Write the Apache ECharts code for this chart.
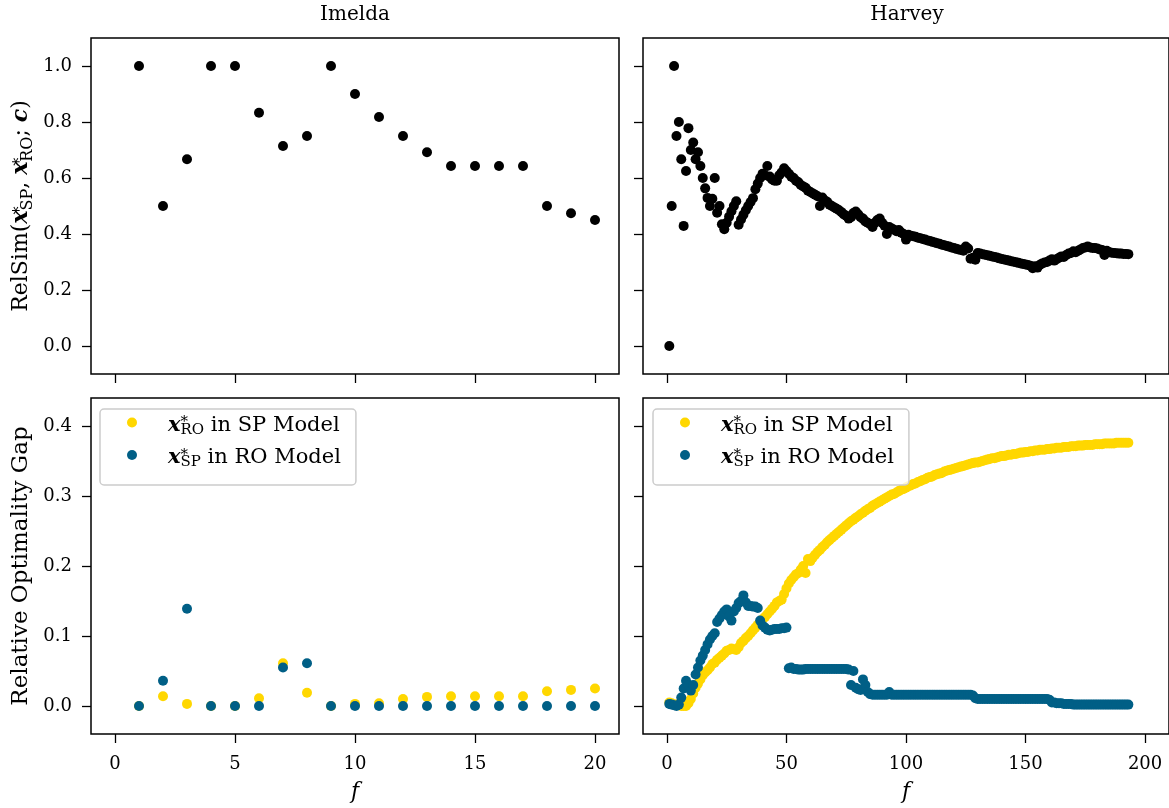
<!DOCTYPE html>
<html>
<head>
<meta charset="utf-8">
<script src="https://cdn.jsdelivr.net/npm/echarts@6/dist/echarts.min.js"></script>
<style>html,body{margin:0;padding:0;background:#fff}#c{width:1169px;height:808px}</style>
</head>
<body>
<div id="c"></div>
<script>
// ---------------- data ----------------
const imeldaF = [1,2,3,4,5,6,7,8,9,10,11,12,13,14,15,16,17,18,19,20];
const imeldaRelSim = [1.0,0.5,0.667,1.0,1.0,0.833,0.714,0.75,1.0,0.9,0.818,0.75,0.692,0.643,0.643,0.643,0.643,0.5,0.474,0.45];
const imeldaGapRO = [0,0.014,0.003,0,0,0.011,0.061,0.019,0,0.003,0.004,0.01,0.013,0.014,0.014,0.014,0.014,0.021,0.023,0.025];
const imeldaGapSP = [0,0.036,0.139,0,0,0,0.055,0.061,0,0,0,0,0,0,0,0,0,0,0,0];

// Harvey: f = 1 .. 193
const harveyRelSim = [
0.0,0.5,1.0,0.75,0.8,0.667,0.429,0.625,0.778,0.7,
0.727,0.667,0.692,0.643,0.6,0.563,0.529,0.5,0.526,0.6,
0.476,0.5,0.435,0.417,0.44,0.462,0.481,0.5,0.517,0.433,
0.452,0.469,0.485,0.5,0.514,0.528,0.56,0.58,0.6,0.615,
0.61,0.643,0.605,0.595,0.59,0.59,0.61,0.62,0.635,0.625,
0.615,0.605,0.6,0.59,0.585,0.575,0.57,0.565,0.555,0.55,
0.545,0.54,0.535,0.5,0.53,0.52,0.515,0.505,0.5,0.495,
0.49,0.485,0.478,0.47,0.465,0.455,0.46,0.475,0.48,0.47,
0.46,0.455,0.445,0.44,0.435,0.425,0.44,0.45,0.455,0.44,
0.43,0.4,0.425,0.42,0.415,0.41,0.414,0.405,0.4,0.38,
0.397,0.394,0.392,0.39,0.387,0.385,0.382,0.38,0.377,0.375,
0.372,0.37,0.367,0.365,0.362,0.36,0.357,0.355,0.352,0.35,
0.347,0.345,0.343,0.34,0.355,0.348,0.312,0.315,0.308,0.332,
0.33,0.328,0.326,0.324,0.322,0.32,0.318,0.316,0.313,0.311,
0.309,0.307,0.305,0.303,0.301,0.299,0.297,0.295,0.293,0.291,
0.289,0.287,0.278,0.285,0.28,0.29,0.295,0.298,0.3,0.305,
0.31,0.305,0.31,0.315,0.32,0.318,0.325,0.33,0.332,0.338,
0.335,0.34,0.345,0.35,0.352,0.355,0.352,0.35,0.35,0.348,
0.345,0.343,0.325,0.34,0.335,0.333,0.332,0.331,0.33,0.33,
0.329,0.329,0.328
];
const harveyGapRO = [
0.005,0.004,0.002,0.002,0.001,0.0,0.0,0.0,0.004,0.01,
0.018,0.026,0.032,0.038,0.044,0.048,0.051,0.055,0.06,0.062,
0.066,0.069,0.072,0.075,0.079,0.08,0.082,0.081,0.08,0.084,
0.09,0.093,0.097,0.1,0.104,0.108,0.112,0.116,0.12,0.124,
0.127,0.131,0.135,0.139,0.143,0.148,0.15,0.152,0.16,0.168,
0.175,0.18,0.184,0.188,0.19,0.195,0.2,0.19,0.21,0.207,
0.212,0.216,0.22,0.223,0.227,0.23,0.234,0.237,0.24,0.243,
0.246,0.249,0.252,0.255,0.258,0.261,0.264,0.266,0.269,0.271,
0.274,0.276,0.279,0.281,0.283,0.286,0.288,0.29,0.292,0.294,
0.296,0.298,0.3,0.302,0.303,0.305,0.307,0.309,0.31,0.312,
0.314,0.315,0.317,0.318,0.32,0.321,0.323,0.324,0.326,0.327,
0.328,0.33,0.331,0.332,0.333,0.335,0.336,0.337,0.338,0.339,
0.34,0.341,0.342,0.343,0.344,0.345,0.346,0.347,0.348,0.348,
0.349,0.35,0.351,0.352,0.353,0.354,0.354,0.355,0.356,0.357,
0.357,0.358,0.359,0.359,0.36,0.36,0.361,0.362,0.362,0.363,
0.363,0.364,0.364,0.365,0.365,0.366,0.366,0.366,0.367,0.367,
0.368,0.368,0.369,0.369,0.369,0.37,0.37,0.37,0.371,0.371,
0.371,0.372,0.372,0.372,0.373,0.373,0.373,0.373,0.374,0.374,
0.374,0.374,0.375,0.375,0.375,0.375,0.375,0.376,0.376,0.376,
0.376,0.376,0.376
];
const harveyGapSP = [
0.003,0.002,0.001,0.0,0.002,0.012,0.025,0.036,0.03,0.022,
0.03,0.045,0.055,0.065,0.072,0.08,0.088,0.095,0.1,0.104,
0.12,0.125,0.13,0.135,0.138,0.128,0.122,0.135,0.14,0.147,
0.15,0.158,0.148,0.143,0.143,0.142,0.142,0.14,0.122,0.115,
0.112,0.109,0.108,0.109,0.11,0.11,0.11,0.111,0.111,0.112,
0.054,0.055,0.053,0.053,0.052,0.052,0.052,0.053,0.053,0.053,
0.053,0.053,0.053,0.053,0.053,0.053,0.053,0.053,0.053,0.053,
0.053,0.053,0.053,0.053,0.053,0.052,0.03,0.05,0.026,0.024,
0.023,0.038,0.03,0.02,0.017,0.016,0.016,0.016,0.016,0.016,
0.016,0.016,0.02,0.016,0.016,0.016,0.016,0.016,0.016,0.016,
0.016,0.016,0.016,0.016,0.016,0.016,0.016,0.016,0.016,0.016,
0.016,0.016,0.016,0.016,0.016,0.016,0.016,0.016,0.016,0.016,
0.016,0.016,0.016,0.016,0.016,0.016,0.016,0.015,0.011,0.01,
0.01,0.01,0.01,0.01,0.01,0.01,0.01,0.01,0.01,0.01,
0.01,0.01,0.01,0.01,0.01,0.01,0.01,0.01,0.01,0.01,
0.01,0.01,0.01,0.01,0.01,0.01,0.01,0.01,0.01,0.009,
0.005,0.005,0.004,0.004,0.004,0.003,0.003,0.003,0.003,0.002,
0.002,0.002,0.002,0.002,0.002,0.002,0.002,0.002,0.002,0.002,
0.002,0.002,0.002,0.002,0.002,0.002,0.002,0.002,0.002,0.002,
0.002,0.002,0.002
];

const imeldaXTicks = [0,5,10,15,20];
const harveyXTicks = [0,50,100,150,200];
const relSimTicks = [0,0.2,0.4,0.6,0.8,1.0];
const gapTicks = [0,0.1,0.2,0.3,0.4];
const panelTitles = ['Imelda','Harvey'];
const seriesNames = ['RO in SP','SP in RO'];

// ---------------- chart ----------------
const FONT = 'DejaVu Serif';
const YELLOW = '#ffd700';
const BLUE = '#005f86';
const chart = echarts.init(document.getElementById('c'), null, {renderer:'canvas'});

const richAxis = (size, subSize) => ({
  n: {fontFamily: FONT, fontSize: size, lineHeight: 30, color:'#000'},
  b: {fontFamily: FONT, fontSize: size, lineHeight: 30, fontWeight:'bold', fontStyle:'italic', color:'#000'},
  sup: {fontFamily: FONT, fontSize: subSize, lineHeight: 30, verticalAlign:'middle', width: 0, color:'#000'},
  sub: {fontFamily: FONT, fontSize: subSize, lineHeight: 12, verticalAlign:'bottom', color:'#000'}
});
const richLegend = {
  n: {fontFamily: FONT, fontSize: 21, lineHeight: 24, padding: [6,0,0,0], color:'#000'},
  b: {fontFamily: FONT, fontSize: 21, lineHeight: 24, padding: [6,0,0,26], fontWeight:'bold', fontStyle:'italic', color:'#000'},
  sup: {fontFamily: FONT, fontSize: 15, lineHeight: 30, verticalAlign:'middle', width: 0, color:'#000'},
  sub: {fontFamily: FONT, fontSize: 15, lineHeight: 12, verticalAlign:'bottom', color:'#000'}
};

const legendLabel = {
  'RO in SP': '{b|x}{sup|*}{sub|RO}{n| in SP Model}',
  'SP in RO': '{b|x}{sup|*}{sub|SP}{n| in RO Model}'
};

const grids = [
  {left: 91, top: 38, width: 528, height: 336},
  {left: 643, top: 38, width: 528, height: 336},
  {left: 91, top: 398, width: 528, height: 336},
  {left: 643, top: 398, width: 528, height: 336}
].map(g => Object.assign(g, {show: true, borderColor: '#000', borderWidth: 1.5, backgroundColor: 'transparent'}));

function xAxis(grid, min, max, ticks, showLabels) {
  return {
    type: 'value', gridIndex: grid, min: min, max: max, position: 'bottom',
    splitLine: {show: false},
    axisLine: {show: false, onZero: false},
    axisTick: {show: true, length: 9, lineStyle: {color: '#000', width: 1.3}, customValues: ticks},
    axisLabel: {show: showLabels, customValues: ticks, margin: 21, fontFamily: FONT, fontSize: 18, color: '#000'},
    name: showLabels ? 'f' : '',
    nameLocation: 'middle', nameGap: 47,
    nameTextStyle: {fontFamily: FONT, fontSize: 22, fontStyle: 'italic', color: '#000'}
  };
}
function yAxis(grid, min, max, ticks, showLabels, name, nameSize) {
  return {
    type: 'value', gridIndex: grid, min: min, max: max, position: 'left',
    splitLine: {show: false},
    axisLine: {show: false, onZero: false},
    axisTick: {show: true, length: 9, lineStyle: {color: '#000', width: 1.3}, customValues: ticks},
    axisLabel: {show: showLabels, customValues: ticks, margin: 19, fontFamily: FONT, fontSize: 18, color: '#000',
      formatter: v => Number(v).toFixed(1)},
    name: name || '',
    nameLocation: 'middle', nameRotate: 90, nameGap: 55,
    nameTextStyle: {fontFamily: FONT, fontSize: nameSize || 22, color: '#000', rich: richAxis(nameSize || 22, 16)}
  };
}

function pts(xs, ys) { return ys.map((v, i) => [xs ? xs[i] : i + 1, v]); }

function scatter(name, xi, data, color, z) {
  return {
    type: 'scatter', name: name, xAxisIndex: xi, yAxisIndex: xi,
    data: data, symbol: 'circle', symbolSize: 10,
    itemStyle: {color: color, opacity: 1}, z: z,
    emphasis: {disabled: true}, silent: true
  };
}

function legend(left) {
  return {
    show: true, orient: 'vertical', left: left, top: 409,
    data: seriesNames.map(n => ({name: n, icon: 'circle'})),
    itemWidth: 10, itemHeight: 10, itemGap: 4,
    padding: [0, 15, 15, 27],
    selectedMode: false,
    backgroundColor: 'rgba(255,255,255,0.8)',
    borderColor: '#cccccc', borderWidth: 1.5, borderRadius: 4,
    formatter: n => legendLabel[n],
    textStyle: {fontFamily: FONT, fontSize: 21, color: '#000', rich: richLegend}
  };
}

const option = {
  animation: false,
  backgroundColor: '#fff',
  title: [
    {text: panelTitles[0], left: 355, top: 5, textAlign: 'center', padding: 0,
     textStyle: {fontFamily: FONT, fontSize: 20, fontWeight: 'normal', color: '#000'}},
    {text: panelTitles[1], left: 907, top: 5, textAlign: 'center', padding: 0,
     textStyle: {fontFamily: FONT, fontSize: 20, fontWeight: 'normal', color: '#000'}}
  ],
  grid: grids,
  legend: [legend(100), legend(653)],
  xAxis: [
    xAxis(0, -1, 21, imeldaXTicks, false),
    xAxis(1, -10, 210, harveyXTicks, false),
    xAxis(2, -1, 21, imeldaXTicks, true),
    xAxis(3, -10, 210, harveyXTicks, true)
  ],
  yAxis: [
    yAxis(0, -0.1, 1.1, relSimTicks, true, '{n|RelSim(}{b|x}{sup|*}{sub|SP}{n|, }{b|x}{sup|*}{sub|RO}{n|; }{b|c}{n|)}', 22),
    yAxis(1, -0.1, 1.1, relSimTicks, false, ''),
    yAxis(2, -0.04, 0.44, gapTicks, true, '{n|Relative Optimality Gap}', 23),
    yAxis(3, -0.04, 0.44, gapTicks, false, '')
  ],
  series: [
    scatter('RelSim Imelda', 0, pts(imeldaF, imeldaRelSim), '#000', 2),
    scatter('RelSim Harvey', 1, pts(null, harveyRelSim), '#000', 2),
    scatter(seriesNames[0], 2, pts(imeldaF, imeldaGapRO), YELLOW, 2),
    scatter(seriesNames[1], 2, pts(imeldaF, imeldaGapSP), BLUE, 3),
    scatter(seriesNames[0], 3, pts(null, harveyGapRO), YELLOW, 2),
    scatter(seriesNames[1], 3, pts(null, harveyGapSP), BLUE, 3)
  ]
};
chart.setOption(option);
</script>
</body>
</html>
